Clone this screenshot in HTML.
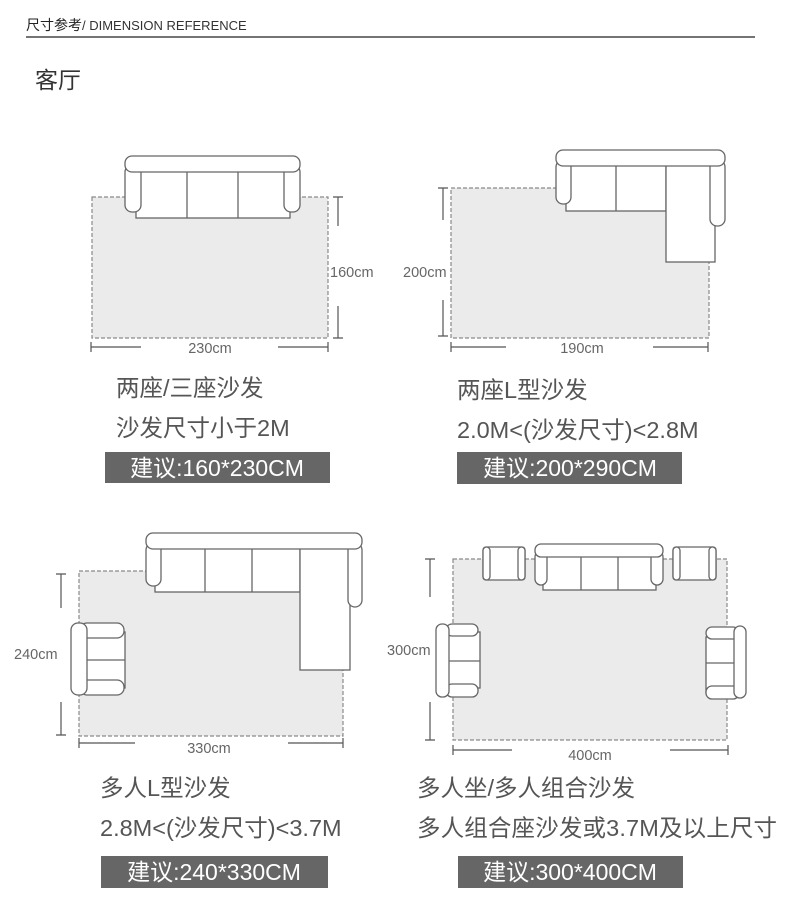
<!DOCTYPE html>
<html><head><meta charset="utf-8"><style>
html,body{margin:0;padding:0;background:#fff;}
svg{display:block;}
text{font-family:"Liberation Sans","Noto Sans CJK SC",sans-serif;}
</style></head><body>
<svg width="790" height="923" viewBox="0 0 790 923" xmlns="http://www.w3.org/2000/svg">
<defs>
<style>
.rug{fill:#ebebeb;stroke:#8a8a8a;stroke-width:1.2;stroke-dasharray:4 2;}
.s{fill:#fff;stroke:#666;stroke-width:1.3;}
.d{stroke:#555;stroke-width:1.2;fill:none;}
.dl{fill:#666;font-size:14.5px;}
.t{fill:#555;font-size:23.5px;}
.b{fill:#666;}
.bt{fill:#fff;font-size:23px;}
</style>
</defs>
<!-- header -->
<text x="26" y="30" font-size="14" fill="#222">尺寸参考<tspan font-size="13" fill="#333">/ DIMENSION REFERENCE</tspan></text>
<line x1="26" y1="37" x2="755" y2="37" stroke="#222" stroke-width="1.2"/>
<text x="35" y="88" font-size="23" fill="#333">客厅</text>

<!-- Panel 1 -->
<rect class="rug" x="92" y="197" width="236" height="141"/>
<rect class="s" x="136" y="170" width="154" height="48"/>
<line class="s" x1="187" y1="170" x2="187" y2="218"/>
<line class="s" x1="238" y1="170" x2="238" y2="218"/>
<rect class="s" x="125" y="165" width="16" height="47" rx="7"/>
<rect class="s" x="284" y="165" width="16" height="47" rx="7"/>
<rect class="s" x="125" y="156" width="175" height="16" rx="7"/>
<path class="d" d="M338 197V226M333 197H343M338 306V338M333 338H343"/>
<text class="dl" x="330" y="277">160cm</text>
<path class="d" d="M91 342V352M91 347H141M278 347H328M328 342V352"/>
<text class="dl" x="210" y="353" text-anchor="middle">230cm</text>
<text class="t" x="116" y="396">两座/三座沙发</text>
<text class="t" x="116" y="436">沙发尺寸小于2M</text>
<rect class="b" x="105" y="452" width="225" height="31"/>
<text class="bt" x="217" y="476" text-anchor="middle">建议:160*230CM</text>

<!-- Panel 2 -->
<rect class="rug" x="451" y="188" width="258" height="150"/>
<rect class="s" x="566" y="164" width="100" height="47"/>
<line class="s" x1="616" y1="164" x2="616" y2="211"/>
<rect class="s" x="666" y="164" width="49" height="98"/>
<rect class="s" x="556" y="160" width="15" height="44" rx="7"/>
<rect class="s" x="710" y="160" width="15" height="66" rx="7"/>
<rect class="s" x="556" y="150" width="169" height="16" rx="7"/>
<path class="d" d="M443 188V220M438 188H448M443 300V336M438 336H448"/>
<text class="dl" x="403" y="277">200cm</text>
<path class="d" d="M451 342V352M451 347H506M653 347H708M708 342V352"/>
<text class="dl" x="582" y="353" text-anchor="middle">190cm</text>
<text class="t" x="457" y="398">两座L型沙发</text>
<text class="t" x="457" y="438">2.0M&lt;(沙发尺寸)&lt;2.8M</text>
<rect class="b" x="457" y="452" width="225" height="32"/>
<text class="bt" x="570" y="476" text-anchor="middle">建议:200*290CM</text>

<!-- Panel 3 -->
<rect class="rug" x="79" y="571" width="264" height="165"/>
<rect class="s" x="155" y="547" width="145" height="45"/>
<line class="s" x1="205" y1="547" x2="205" y2="592"/>
<line class="s" x1="252" y1="547" x2="252" y2="592"/>
<rect class="s" x="300" y="547" width="50" height="123"/>
<rect class="s" x="146" y="543" width="15" height="43" rx="7"/>
<rect class="s" x="348" y="543" width="14" height="64" rx="7"/>
<rect class="s" x="146" y="533" width="216" height="16" rx="7"/>
<rect class="s" x="84" y="632" width="41" height="56"/>
<line class="s" x1="84" y1="660" x2="125" y2="660"/>
<rect class="s" x="80" y="623" width="44" height="15" rx="7"/>
<rect class="s" x="80" y="680" width="44" height="15" rx="7"/>
<rect class="s" x="71" y="623" width="16" height="72" rx="7"/>
<path class="d" d="M61 574V608M56 574H66M61 702V735M56 735H66"/>
<text class="dl" x="14" y="659">240cm</text>
<path class="d" d="M79 738V748M79 743H135M288 743H343M343 738V748"/>
<text class="dl" x="209" y="753" text-anchor="middle">330cm</text>
<text class="t" x="100" y="796">多人L型沙发</text>
<text class="t" x="100" y="836">2.8M&lt;(沙发尺寸)&lt;3.7M</text>
<rect class="b" x="101" y="856" width="227" height="32"/>
<text class="bt" x="214" y="880" text-anchor="middle">建议:240*330CM</text>

<!-- Panel 4 -->
<rect class="rug" x="453" y="559" width="274" height="181"/>
<rect class="s" x="543" y="555" width="113" height="35"/>
<line class="s" x1="581" y1="555" x2="581" y2="590"/>
<line class="s" x1="618" y1="555" x2="618" y2="590"/>
<rect class="s" x="535" y="551" width="12" height="34" rx="6"/>
<rect class="s" x="651" y="551" width="12" height="34" rx="6"/>
<rect class="s" x="535" y="544" width="128" height="13" rx="6"/>
<rect class="s" x="483" y="547" width="42" height="33" rx="3"/>
<rect class="s" x="483" y="547" width="7" height="33" rx="3.5"/>
<rect class="s" x="518" y="547" width="7" height="33" rx="3.5"/>
<rect class="s" x="673" y="547" width="43" height="33" rx="3"/>
<rect class="s" x="673" y="547" width="7" height="33" rx="3.5"/>
<rect class="s" x="709" y="547" width="7" height="33" rx="3.5"/>
<rect class="s" x="445" y="632" width="35" height="56"/>
<line class="s" x1="445" y1="661" x2="480" y2="661"/>
<rect class="s" x="446" y="624" width="32" height="12" rx="6"/>
<rect class="s" x="446" y="684" width="32" height="13" rx="6"/>
<rect class="s" x="436" y="624" width="13" height="73" rx="6"/>
<rect class="s" x="706" y="637" width="35" height="56"/>
<line class="s" x1="706" y1="663" x2="741" y2="663"/>
<rect class="s" x="706" y="627" width="33" height="12" rx="6"/>
<rect class="s" x="706" y="686" width="33" height="13" rx="6"/>
<rect class="s" x="734" y="626" width="12" height="72" rx="6"/>
<path class="d" d="M430 559V597M425 559H435M430 702V740M425 740H435"/>
<text class="dl" x="387" y="655">300cm</text>
<path class="d" d="M453 745V755M453 750H512M670 750H728M728 745V755"/>
<text class="dl" x="590" y="760" text-anchor="middle">400cm</text>
<text class="t" x="417" y="796">多人坐/多人组合沙发</text>
<text class="t" x="417" y="836" textLength="360">多人组合座沙发或3.7M及以上尺寸</text>
<rect class="b" x="458" y="856" width="225" height="32"/>
<text class="bt" x="570" y="880" text-anchor="middle">建议:300*400CM</text>
</svg>
</body></html>
